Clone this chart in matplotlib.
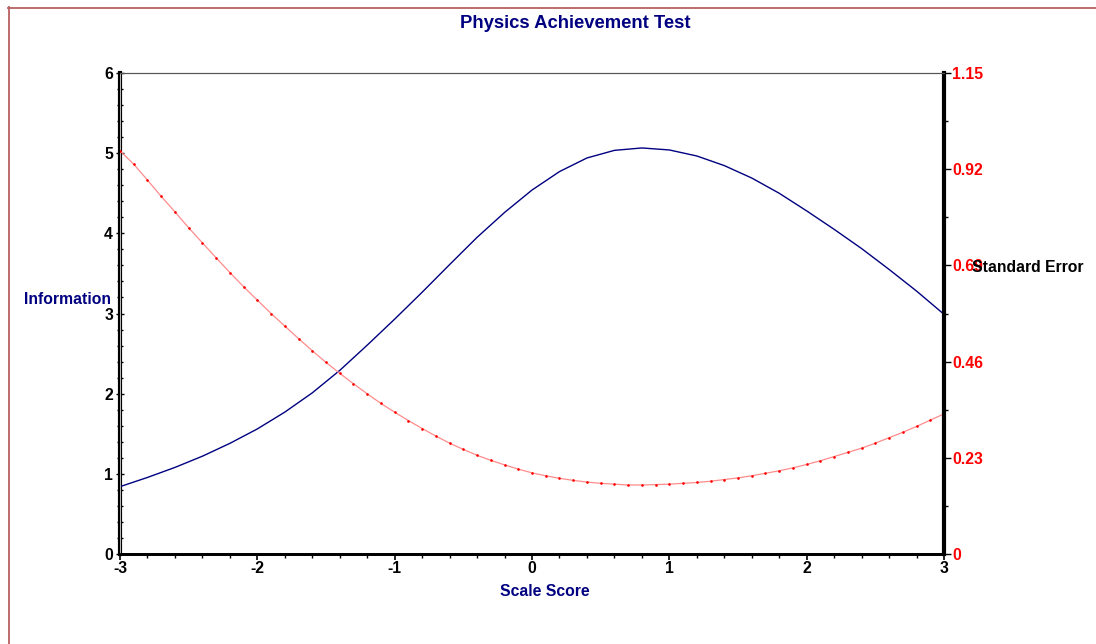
import matplotlib
matplotlib.use("Agg")
import matplotlib.pyplot as plt
from matplotlib.lines import Line2D
from matplotlib.ticker import MultipleLocator, FixedLocator

plt.rcParams['font.family'] = ['Liberation Sans', 'DejaVu Sans']

title = "Physics Achievement Test"
x_label = "Scale Score"
left_label = "Information"
right_label = "Standard Error"

info_scores = [-3.0, -2.8, -2.6, -2.4, -2.2, -2.0, -1.8, -1.6, -1.4, -1.2, -1.0,
               -0.8, -0.6, -0.4, -0.2, 0.0, 0.2, 0.4, 0.6, 0.8, 1.0,
               1.2, 1.4, 1.6, 1.8, 2.0, 2.2, 2.4, 2.6, 2.8, 3.0]
information = [0.84, 0.955, 1.08, 1.22, 1.38, 1.56, 1.77, 2.01, 2.29, 2.605, 2.93,
               3.265, 3.61, 3.95, 4.26, 4.54, 4.77, 4.94, 5.035, 5.065, 5.04,
               4.965, 4.845, 4.69, 4.50, 4.28, 4.05, 3.81, 3.55, 3.28, 2.99]

se_scores = [-3.0, -2.9, -2.8, -2.7, -2.6, -2.5, -2.4, -2.3, -2.2, -2.1,
             -2.0, -1.9, -1.8, -1.7, -1.6, -1.5, -1.4, -1.3, -1.2, -1.1,
             -1.0, -0.9, -0.8, -0.7, -0.6, -0.5, -0.4, -0.3, -0.2, -0.1,
             0.0, 0.1, 0.2, 0.3, 0.4, 0.5, 0.6, 0.7, 0.8, 0.9,
             1.0, 1.1, 1.2, 1.3, 1.4, 1.5, 1.6, 1.7, 1.8, 1.9,
             2.0, 2.1, 2.2, 2.3, 2.4, 2.5, 2.6, 2.7, 2.8, 2.9, 3.0]
std_error = [0.964, 0.932, 0.894, 0.855, 0.818, 0.780, 0.744, 0.708, 0.673, 0.639,
             0.607, 0.575, 0.545, 0.515, 0.486, 0.458, 0.432, 0.407, 0.383, 0.360,
             0.339, 0.319, 0.300, 0.282, 0.265, 0.250, 0.236, 0.224, 0.213, 0.203,
             0.194, 0.187, 0.181, 0.176, 0.172, 0.169, 0.167, 0.165, 0.165, 0.166,
             0.167, 0.169, 0.171, 0.174, 0.178, 0.182, 0.187, 0.193, 0.199, 0.206,
             0.214, 0.223, 0.233, 0.243, 0.253, 0.265, 0.278, 0.291, 0.305, 0.320, 0.335]

x_ticks = [-3, -2, -1, 0, 1, 2, 3]
left_ticks = [0, 1, 2, 3, 4, 5, 6]
right_ticks = [0, 0.23, 0.46, 0.69, 0.92, 1.15]
right_tick_labels = ["0", "0.23", "0.46", "0.69", "0.92", "1.15"]

W, H = 1096, 644
fig = plt.figure(figsize=(W / 100, H / 100), dpi=100)
fig.patch.set_facecolor('white')

ax = fig.add_axes([120 / W, 1 - 554 / H, (944 - 120) / W, (554 - 73) / H])
ax2 = ax.twinx()

navy = '#000080'
ax.plot(info_scores, information, color=navy, lw=1.0, zorder=3)
ax2.plot(se_scores, std_error, color='#ff8c8c', lw=0.9, zorder=2,
         marker='.', markersize=1.8, markerfacecolor='#ff0000', markeredgecolor='#ff0000')

ax.set_xlim(-3, 3)
ax.set_ylim(0, 6)
ax2.set_ylim(0, 1.15)

fs = 11.3
ax.set_xticks(x_ticks)
ax.set_xticklabels([str(t) for t in x_ticks], fontsize=fs, fontweight='bold')
ax.xaxis.set_minor_locator(MultipleLocator(0.2))
ax.set_yticks(left_ticks)
ax.set_yticklabels([str(t) for t in left_ticks], fontsize=fs, fontweight='bold')
ax.yaxis.set_minor_locator(MultipleLocator(0.2))

ax.tick_params(axis='x', which='major', direction='out', length=4, width=1.2, pad=1)
ax.tick_params(axis='x', which='minor', direction='out', length=3, width=1.0)
ax.tick_params(axis='y', which='major', direction='inout', length=6, width=1.0, pad=2)
ax.tick_params(axis='y', which='minor', direction='inout', length=4, width=1.0)

ax2.set_yticks(right_ticks)
ax2.set_yticklabels(right_tick_labels, fontsize=fs, fontweight='bold', color='#ff0000')
ax2.yaxis.set_minor_locator(FixedLocator([0.115, 0.345, 0.575, 0.805, 1.035]))
ax2.tick_params(axis='y', which='major', direction='out', length=5, width=1.0, pad=1)
ax2.tick_params(axis='y', which='minor', direction='out', length=3, width=1.0)

for a in (ax, ax2):
    a.spines['top'].set_color('#555555')
    a.spines['top'].set_linewidth(0.8)
    a.spines['bottom'].set_linewidth(2.0)
    a.spines['left'].set_linewidth(3.0)
    a.spines['right'].set_linewidth(3.0)
ax2.spines['left'].set_visible(False)
ax.spines['right'].set_visible(False)

# inner light line to imitate the double-line vertical axes
for xv in (-3, 3):
    ax.plot([xv, xv], [0, 6], color='#bbbbbb', lw=0.7, clip_on=False, zorder=5)

fig.text(575 / W, 1 - 23 / H, title, ha='center', va='center',
         fontsize=13.3, fontweight='bold', color=navy)
fig.text(24 / W, 1 - 299 / H, left_label, ha='left', va='center',
         fontsize=fs, fontweight='bold', color=navy)
fig.text(545 / W, 1 - 592 / H, x_label, ha='center', va='center',
         fontsize=fs, fontweight='bold', color=navy)
fig.text(972 / W, 1 - 267 / H, right_label, ha='left', va='center',
         fontsize=fs, fontweight='bold', color='black', zorder=10)

# outer frame (top and left edges visible)
border = '#b86060'
fig.add_artist(Line2D([8 / W, 1.0], [1 - 7.5 / H, 1 - 7.5 / H], color=border, lw=1.3))
fig.add_artist(Line2D([8.5 / W, 8.5 / W], [0.0, 1 - 7 / H], color=border, lw=1.3))

fig.savefig("out.png", dpi=100, facecolor='white')
